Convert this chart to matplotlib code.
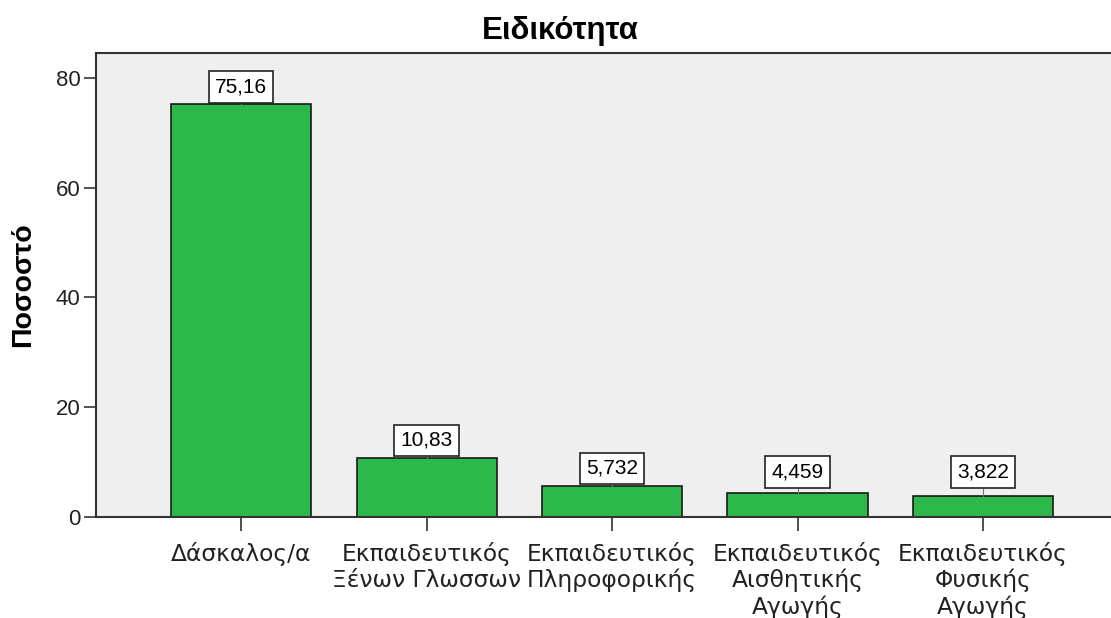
import numpy as np
import matplotlib
matplotlib.use("Agg")
import matplotlib.pyplot as plt

plt.rcParams["font.family"] = ["Liberation Sans", "DejaVu Sans"]

# data
categories = [
    "Δάσκαλος/α",
    "Εκπαιδευτικός\nΞένων Γλωσσων",
    "Εκπαιδευτικός\nΠληροφορικής",
    "Εκπαιδευτικός\nΑισθητικής\nΑγωγής",
    "Εκπαιδευτικός\nΦυσικής\nΑγωγής",
]
percent = [75.16, 10.83, 5.732, 4.459, 3.822]
value_labels = ["75,16", "10,83", "5,732", "4,459", "3,822"]
yticks = [0, 20, 40, 60, 80]

W, H = 1111, 618
fig = plt.figure(figsize=(W / 100, H / 100), dpi=100)

# plot area in pixels: left 96, top 53, bottom 517, runs past right edge
ax = fig.add_axes([96 / W, 1 - 517 / H, 1 - 96 / W, (517 - 53) / H])
ax.set_facecolor("#EFEFEF")

x = np.arange(len(categories))
ax.bar(x, percent, width=0.755, color="#2DB84B", edgecolor="#1a1a1a",
       linewidth=1.2, zorder=2)

ax.set_xlim(-0.782, 4.69)
ax.set_ylim(0, 84.5)

# value boxes above bars, with a short leader line
min_label = 5.1
for xi, v, lab in zip(x, percent, value_labels):
    y0 = max(v, min_label)
    ax.plot([xi, xi], [v, y0 + 0.3], color="#777777", lw=0.8, zorder=3)
    ax.annotate(lab, (xi, y0), xytext=(0, 5.5), textcoords="offset points",
                ha="center", va="bottom", fontsize=15, zorder=4,
                bbox=dict(boxstyle="square,pad=0.3", fc="white",
                          ec="#222222", lw=1.2))

ax.set_xticks(x)
ax.set_xticklabels(categories, fontsize=16.8, linespacing=1.15,
                   multialignment="center", family="DejaVu Sans",
                   color="#222222")
ax.set_yticks(yticks)
ax.set_yticklabels([str(t) for t in yticks], fontsize=16, color="#222222")
ax.tick_params(axis="y", length=9, width=1.2, pad=2, color="#333333")
ax.tick_params(axis="x", length=10, width=1.2, pad=8, color="#333333")

for side in ["left", "bottom", "top"]:
    ax.spines[side].set_linewidth(1.5)
    ax.spines[side].set_color("#333333")
ax.spines["right"].set_visible(False)

fig.text(560 / W, 1 - 39 / H, "Ειδικότητα", ha="center", va="baseline",
         fontsize=22.5, fontweight="bold")
fig.text(23 / W, 1 - 285 / H, "Ποσοστό", ha="center", va="center",
         rotation=90, fontsize=20.5, fontweight="bold")

fig.savefig("out.png", dpi=100)
